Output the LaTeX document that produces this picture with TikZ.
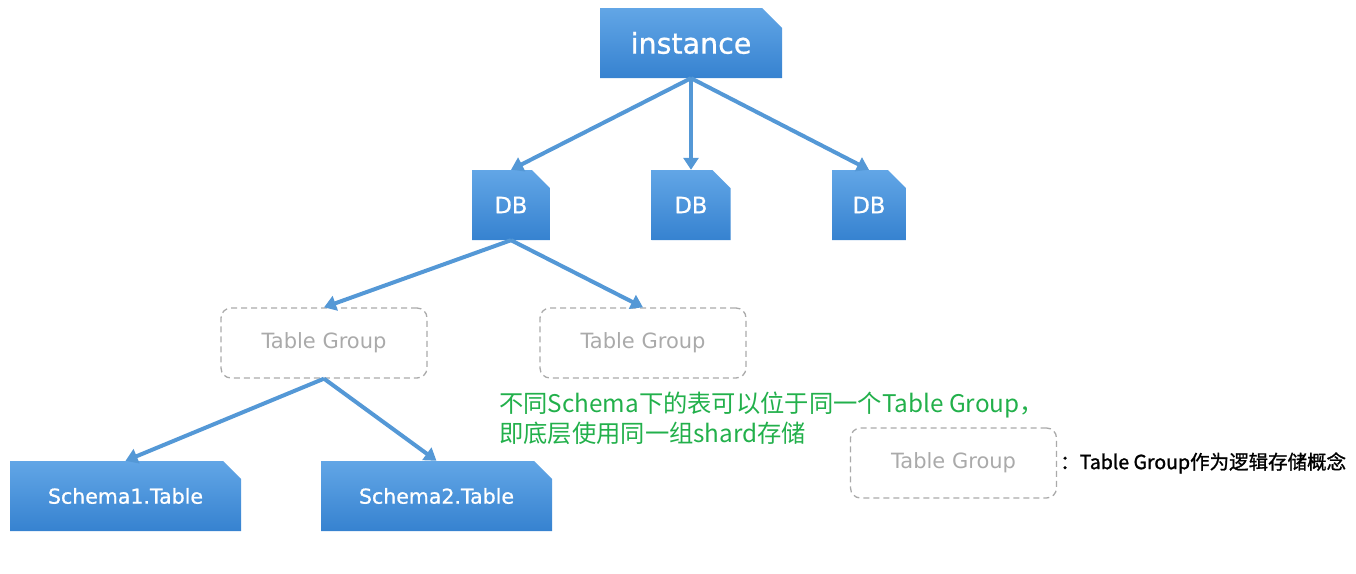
\documentclass[tikz,border=0pt]{standalone}
\usepackage{fontspec}
\setmainfont{DejaVu Sans}
\newfontfamily\boxfont[FakeBold=0.8]{DejaVu Sans}
\newfontfamily\cjk{Noto Sans CJK SC}
\newfontfamily\cjkmed[FakeBold=1.2]{Noto Sans CJK SC}
\usepackage{xcolor}
\usepackage{tikz}
\usetikzlibrary{shapes.misc,arrows.meta}
\definecolor{boxtop}{RGB}{98,166,230}
\definecolor{boxbottom}{RGB}{54,130,208}
\definecolor{linkblue}{RGB}{84,152,214}
\definecolor{notegreen}{RGB}{34,176,75}
\definecolor{groupgray}{RGB}{170,170,170}
\tikzset{
  bluebox/.style={chamfered rectangle, chamfered rectangle corners=north east,
    chamfered rectangle xsep=10pt, chamfered rectangle ysep=10pt,
    top color=boxtop, bottom color=boxbottom, draw=none, text=white,
    minimum height=70pt, inner sep=0pt},
  groupbox/.style={draw=groupgray, dash pattern=on 6pt off 4pt, rounded corners=10pt,
    line width=1.3pt, minimum width=206pt, minimum height=70pt, text=groupgray,
    font=\fontsize{21}{24}\selectfont},
  link/.style={draw=linkblue, line width=4pt, -{Triangle[length=12pt,width=15pt]}}
}
\begin{document}
\begin{tikzpicture}[x=1pt, y=-1pt]
    \useasboundingbox (0,0) rectangle (1356,573);
    % Instance
    \node[bluebox, minimum width=182pt, font=\boxfont\fontsize{28.5}{32}\selectfont] (inst) at (691,43) {instance};

    % Databases
    \node[bluebox, minimum width=78pt, font=\boxfont\fontsize{22.5}{24}\selectfont] (db1) at (511,205) {DB};
    \node[bluebox, minimum width=79pt, font=\boxfont\fontsize{22.5}{24}\selectfont] (db2) at (691,205) {DB};
    \node[bluebox, minimum width=74pt, font=\boxfont\fontsize{22.5}{24}\selectfont] (db3) at (869,205) {DB};

    % Table groups
    \node[groupbox] (tg1) at (324,343) {Table Group};
    \node[groupbox] (tg2) at (643,343) {Table Group};

    % Tables
    \node[bluebox, minimum width=231pt, font=\boxfont\fontsize{20.5}{24}\selectfont] (tab1) at (125.5,496) {Schema1.Table};
    \node[bluebox, minimum width=231pt, font=\boxfont\fontsize{20.5}{24}\selectfont] (tab2) at (436.5,496) {Schema2.Table};

    % Arrows
    \foreach \to in {db1,db2,db3}
    {
        \draw[link] (inst.south) -- (\to.north);
    }
    \foreach \to in {tg1,tg2}
    {
        \draw[link] (db1.south) -- (\to.north);
    }
    \foreach \to in {tab1,tab2}
    {
        \draw[link] (tg1.south) -- (\to.north);
    }

    % Note and legend
    \node[anchor=west, align=left, inner sep=0pt, text=notegreen,
          font=\cjk\fontsize{24.3}{30}\selectfont] (note) at (499,418)
          {不同Schema下的表可以位于同一个Table Group，\\即底层使用同一组shard存储};
    \node[groupbox] (legbox) at (953.5,463) {Table Group};
    \node[anchor=west, inner sep=0pt, font=\cjkmed\fontsize{19.5}{22}\selectfont] (legtext) at (1060,463)
          {：Table Group作为逻辑存储概念};
\end{tikzpicture}
\end{document}
